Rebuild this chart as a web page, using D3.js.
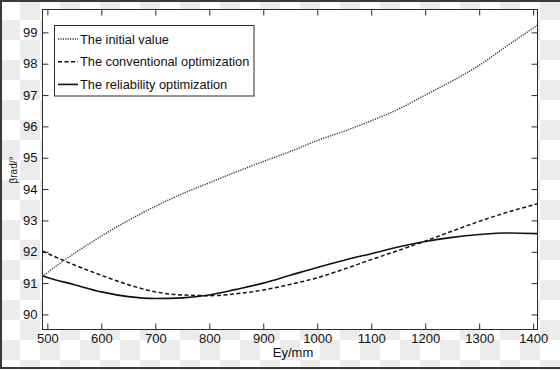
<!DOCTYPE html>
<html><head><meta charset="utf-8">
<script src="https://cdn.jsdelivr.net/npm/d3@7"></script>
<style>body{margin:0;}svg{display:block;font-family:"Liberation Sans",Arial,sans-serif;}</style>
</head><body>
<svg id="c" width="560" height="370"></svg>
<script>
const xs = [491,500,550,600,650,700,750,800,850,900,950,1000,1050,1100,1150,1200,1250,1300,1350,1408];
const initialValue = [91.2,91.33,91.95,92.5,93.0,93.45,93.85,94.2,94.55,94.88,95.2,95.55,95.85,96.18,96.55,97.0,97.45,97.95,98.55,99.23];
const conventional = [92.02,91.95,91.58,91.25,90.95,90.72,90.62,90.6,90.66,90.78,90.96,91.17,91.45,91.75,92.04,92.34,92.66,92.97,93.25,93.53];
const reliability = [91.23,91.18,90.95,90.72,90.57,90.51,90.53,90.62,90.8,91.0,91.25,91.5,91.73,91.94,92.15,92.33,92.46,92.55,92.6,92.58];
const xTicks = [500,600,700,800,900,1000,1100,1200,1300,1400];
const yTicks = [90,91,92,93,94,95,96,97,98,99];
const seriesNames = ["The initial value","The conventional optimization","The reliability optimization"];

const svg = d3.select("#c");
const W = 560, H = 370;
const defs = svg.append("defs");
const pat = defs.append("pattern").attr("id","chk").attr("width",40).attr("height",40).attr("patternUnits","userSpaceOnUse");
pat.append("rect").attr("width",40).attr("height",40).attr("fill","#ffffff");
pat.append("rect").attr("x",20).attr("y",0).attr("width",20).attr("height",20).attr("fill","#ececec");
pat.append("rect").attr("x",0).attr("y",20).attr("width",20).attr("height",20).attr("fill","#ececec");
svg.append("rect").attr("width",W).attr("height",H).attr("fill","url(#chk)");
svg.append("path").attr("d","M1,0V368M0,1H560M0,368H560").attr("stroke","#3a3a3a").attr("stroke-width",2).attr("fill","none");

const L = 42.5, R = 537.5, T = 9.5, B = 329.5;
const x = d3.scaleLinear().domain([491,1408]).range([L,R]);
const y = d3.scaleLinear().domain([89.52,99.73]).range([B,T]);

svg.append("rect").attr("x",L).attr("y",T).attr("width",R-L).attr("height",B-T).attr("fill","#fff");

const ink = "#2b2b2b";
const tl = 6;
const gB = svg.append("g").attr("transform",`translate(0,${B})`).call(d3.axisBottom(x).tickValues(xTicks).tickSize(-tl).tickPadding(4).tickFormat(d3.format("d")));
const gT = svg.append("g").attr("transform",`translate(0,${T})`).call(d3.axisTop(x).tickValues(xTicks).tickSize(-tl).tickFormat(""));
const gL = svg.append("g").attr("transform",`translate(${L},0)`).call(d3.axisLeft(y).tickValues(yTicks).tickSize(-tl).tickPadding(5).tickFormat(d3.format("d")));
const gR = svg.append("g").attr("transform",`translate(${R},0)`).call(d3.axisRight(y).tickValues(yTicks).tickSize(-tl).tickFormat(""));
[gB,gT,gL,gR].forEach(g=>{
  g.select(".domain").remove();
  g.selectAll(".tick line").attr("stroke",ink);
  g.selectAll("text").attr("fill","#111").attr("font-size",13).attr("font-family","Liberation Sans, Arial, sans-serif");
});
gB.selectAll("text").attr("dy","0.72em");

svg.append("rect").attr("x",L).attr("y",T).attr("width",R-L).attr("height",B-T).attr("fill","none").attr("stroke",ink).attr("stroke-width",1);

const styles = [
  {data: initialValue, dash:"1.2,1.2", w:1.4, c:"#333"},
  {data: conventional, dash:"4,2.5", w:1.5, c:"#111"},
  {data: reliability, dash:null, w:1.6, c:"#111"}
];
const line = d3.line().x((d,i)=>x(xs[i])).y(d=>y(d)).curve(d3.curveMonotoneX);
styles.forEach(s=>{
  svg.append("path").datum(s.data).attr("d",line).attr("fill","none")
    .attr("stroke",s.c).attr("stroke-width",s.w).attr("stroke-dasharray",s.dash);
});

const lg = svg.append("g");
lg.append("rect").attr("x",54.5).attr("y",25.5).attr("width",199.5).attr("height",70.5).attr("fill","#fff").attr("stroke",ink).attr("stroke-width",1);
seriesNames.forEach((n,i)=>{
  const yy = 39 + i*22.7;
  lg.append("line").attr("x1",58).attr("x2",78).attr("y1",yy).attr("y2",yy)
    .attr("stroke",styles[i].c).attr("stroke-width",styles[i].w).attr("stroke-dasharray",styles[i].dash);
  lg.append("text").attr("x",80).attr("y",yy).attr("dy","0.36em").attr("font-size",12.8).attr("fill","#111").text(n);
});

svg.append("text").attr("x",293).attr("y",357).attr("text-anchor","middle").attr("font-size",13).attr("fill","#111").text("Ey/mm");
svg.append("text").attr("transform","translate(17,170) rotate(-90)").attr("text-anchor","middle").attr("font-size",10).attr("fill","#111").text("βrad/°");
</script>
</body></html>
